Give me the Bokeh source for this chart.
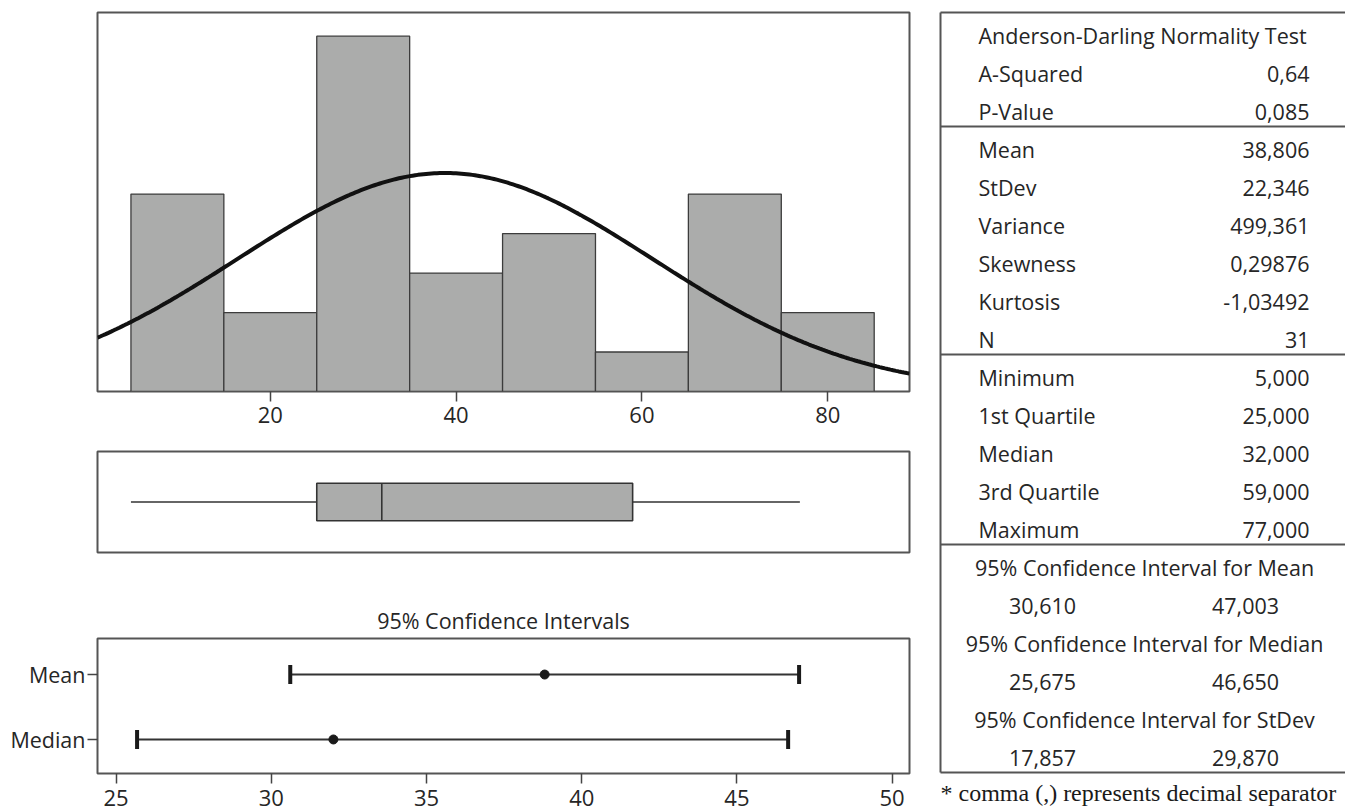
import numpy as np
from bokeh.plotting import figure
from bokeh.layouts import row, column
from bokeh.models import Range1d, FixedTicker, LinearAxis
from bokeh.core.properties import value
from bokeh.embed import file_html
from bokeh.resources import INLINE

# ---------------- data ----------------
bin_edges = [5, 15, 25, 35, 45, 55, 65, 75, 85]
bin_counts = [5, 2, 9, 3, 4, 1, 5, 2]
mean_value = 38.806
stdev_value = 22.346
n_obs = 31
hist_ticks = [20, 40, 60, 80]

box_min, box_q1, box_median, box_q3, box_max = 5.0, 25.0, 32.0, 59.0, 77.0

ci_names = ["Mean", "Median"]
ci_pos = [2, 1]
ci_lower = [30.610, 25.675]
ci_upper = [47.003, 46.650]
ci_point = [38.806, 32.000]
ci_ticks = [25, 30, 35, 40, 45, 50]

stat_header = "Anderson-Darling Normality Test"
stat_labels = ["A-Squared", "P-Value", "Mean", "StDev", "Variance", "Skewness",
               "Kurtosis", "N", "Minimum", "1st Quartile", "Median",
               "3rd Quartile", "Maximum"]
stat_values = ["0,64", "0,085", "38,806", "22,346", "499,361", "0,29876",
               "-1,03492", "31", "5,000", "25,000", "32,000", "59,000", "77,000"]
ci_titles = ["95% Confidence Interval for Mean",
             "95% Confidence Interval for Median",
             "95% Confidence Interval for StDev"]
ci_low_text = ["30,610", "25,675", "17,857"]
ci_high_text = ["47,003", "46,650", "29,870"]
footnote = "* comma (,) represents decimal separator"
ci_panel_title = "95% Confidence Intervals"

# ---------------- style ----------------
FONT = "Open Sans"
FS = "21.5px"
BAR = "#abacab"
EDGE = "#3c3c3c"
FRAME = "#555555"
TXT = "#262626"
LEFT_W = 930


def base_fig(w, h, xr, yr, bl, br, bt, bb, title=None):
    p = figure(width=w, height=h, x_range=xr, y_range=yr, output_backend="svg",
               toolbar_location=None, min_border_left=bl, min_border_right=br,
               min_border_top=bt, min_border_bottom=bb,
               x_axis_location=None, y_axis_location=None, title=title)
    p.grid.visible = False
    p.outline_line_color = FRAME
    p.outline_line_width = 2
    p.background_fill_color = "white"
    p.border_fill_color = "white"
    return p


def style_axis(ax, out=10, standoff=5, size=FS):
    ax.axis_line_color = None
    ax.major_tick_line_color = "#444444"
    ax.major_tick_line_width = 1.5
    ax.major_tick_in = 0
    ax.major_tick_out = out
    ax.minor_tick_line_color = None
    ax.major_label_text_font = FONT
    ax.major_label_text_font_size = size
    ax.major_label_text_color = TXT
    ax.major_label_standoff = standoff


# ---------------- histogram ----------------
hx = Range1d(1.4, 88.8)
ph = base_fig(LEFT_W, 437, hx, Range1d(0, 9.6), 97, 21, 12, 46)
ph.quad(left=bin_edges[:-1], right=bin_edges[1:], bottom=0, top=bin_counts,
        fill_color=BAR, line_color=EDGE, line_width=1.3)
bw = bin_edges[1] - bin_edges[0]
cx = np.linspace(hx.start, hx.end, 300)
cy = n_obs * bw * np.exp(-0.5 * ((cx - mean_value) / stdev_value) ** 2) / (stdev_value * np.sqrt(2 * np.pi))
ph.line(cx, cy, line_color="#111111", line_width=4)
axh = LinearAxis(ticker=FixedTicker(ticks=hist_ticks))
style_axis(axh, out=10, standoff=5, size="22px")
ph.add_layout(axh, "below")

# ---------------- boxplot ----------------
pb = base_fig(LEFT_W, 138, Range1d(hx.start, hx.end), Range1d(0, 1), 97, 21, 14, 23)
pb.segment(x0=[box_min, box_q3], x1=[box_q1, box_max], y0=[0.5, 0.5], y1=[0.5, 0.5],
           line_color="#333333", line_width=1.6)
pb.quad(left=[box_q1], right=[box_q3], bottom=[0.315], top=[0.685],
        fill_color=BAR, line_color="#333333", line_width=1.6)
pb.segment(x0=[box_median], x1=[box_median], y0=[0.315], y1=[0.685],
           line_color="#333333", line_width=1.6)

# ---------------- confidence intervals ----------------
pc = base_fig(LEFT_W, 235, Range1d(24.4, 50.56), Range1d(0.476, 2.555), 97, 21, 63, 37,
              title=ci_panel_title)
pc.title.align = "center"
pc.title.text_font = FONT
pc.title.text_font_size = FS
pc.title.text_font_style = "normal"
pc.title.text_color = TXT
pc.title.standoff = 7
pc.segment(x0=ci_lower, x1=ci_upper, y0=ci_pos, y1=ci_pos, line_color="#333333", line_width=2)
pc.scatter(x=ci_lower + ci_upper, y=ci_pos + ci_pos, marker="dash", angle=np.pi / 2,
           size=19, line_width=4, line_color="#1a1a1a")
pc.scatter(x=ci_point, y=ci_pos, marker="circle", size=9, fill_color="#1a1a1a",
           line_color="#1a1a1a")
axcx = LinearAxis(ticker=FixedTicker(ticks=ci_ticks))
style_axis(axcx, out=10, standoff=6, size="22px")
pc.add_layout(axcx, "below")
axcy = LinearAxis(ticker=FixedTicker(ticks=ci_pos),
                  major_label_overrides={pos: name for pos, name in zip(ci_pos, ci_names)})
style_axis(axcy, out=10, standoff=2)
pc.add_layout(axcy, "left")

# ---------------- statistics table ----------------
TW, TH = 415, 810
pt = figure(width=TW, height=TH, x_range=Range1d(0, TW), y_range=Range1d(TH, 0),
            output_backend="svg", toolbar_location=None, min_border=0,
            x_axis_location=None, y_axis_location=None)
pt.grid.visible = False
pt.outline_line_color = None
pt.background_fill_color = "white"
pt.border_fill_color = "white"

row_y = [35 + 38 * i for i in range(20)]
left_x, top_y, bot_y = 10, 12, 772
label_x, value_x = 48, 379
sep_rows = [2, 8, 13]
hy = [top_y, bot_y] + [row_y[k] + 15 for k in sep_rows]
pt.segment(x0=[left_x] * len(hy), x1=[TW] * len(hy), y0=hy, y1=hy,
           line_color=FRAME, line_width=2)
pt.segment(x0=[left_x], x1=[left_x], y0=[top_y], y1=[bot_y], line_color=FRAME, line_width=2)

tfont = dict(text_font=value(FONT), text_font_size=value(FS), text_color=TXT,
             text_baseline="middle")
pt.text(x=[label_x], y=[row_y[0]], text=[stat_header], text_align="left", **tfont)
pt.text(x=[label_x] * len(stat_labels), y=row_y[1:14], text=stat_labels,
        text_align="left", **tfont)
pt.text(x=[value_x] * len(stat_values), y=row_y[1:14], text=stat_values,
        text_align="right", **tfont)
pt.text(x=[214] * 3, y=[row_y[14], row_y[16], row_y[18]], text=ci_titles,
        text_align="center", **tfont)
pt.text(x=[112] * 3, y=[row_y[15], row_y[17], row_y[19]], text=ci_low_text,
        text_align="center", **tfont)
pt.text(x=[315] * 3, y=[row_y[15], row_y[17], row_y[19]], text=ci_high_text,
        text_align="center", **tfont)
pt.text(x=[left_x], y=[792], text=[footnote], text_align="left",
        text_font=value("Liberation Serif"), text_font_size=value("24px"),
        text_color="#1a1a1a", text_baseline="middle")

layout = row(column(ph, pb, pc), pt)
open("out.html", "w").write(file_html(layout, INLINE))
